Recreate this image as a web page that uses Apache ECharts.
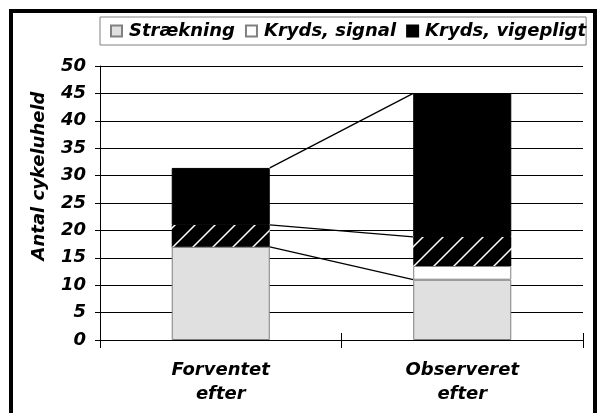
<!DOCTYPE html>
<html>
<head>
<meta charset="utf-8">
<script src="https://cdn.jsdelivr.net/npm/echarts@6/dist/echarts.min.js"></script>
<style>
  html, body { margin: 0; padding: 0; background: #fff; }
  #chart { width: 597px; height: 413px; }
</style>
</head>
<body>
<div id="chart"></div>
<script>
// data
const categories = ['Forventet\nefter', 'Observeret\nefter']
const straekning = [17, 11]
const signal = [0, 2.5]
const skraveret = [4, 5.3]      // hatched part, not in legend
const vigepligt = [10.4, 26.2]
const yTicks = [0, 5, 10, 15, 20, 25, 30, 35, 40, 45, 50]

const font = { fontFamily: 'DejaVu Sans', fontWeight: 'bold', fontStyle: 'italic', fontSize: 18, color: '#000' }

// hatch pattern: black with white diagonal lines
function makeHatch() {
  const c = document.createElement('canvas')
  c.width = 20
  c.height = 20
  const ctx = c.getContext('2d')
  ctx.fillStyle = '#000'
  ctx.fillRect(0, 0, 20, 20)
  ctx.strokeStyle = '#fff'
  ctx.lineWidth = 1.5
  ctx.beginPath()
  ctx.moveTo(-2, 22); ctx.lineTo(22, -2)
  ctx.moveTo(-12, 12); ctx.lineTo(12, -12)
  ctx.moveTo(8, 32); ctx.lineTo(32, 8)
  ctx.stroke()
  return c
}

// series lines connect the tops of these stacked series
const stacks = [straekning, signal, skraveret, vigepligt]
const cum = stacks.map((s, i) => s.map((_, j) => stacks.slice(0, i + 1).reduce((a, b) => a + b[j], 0)))
const seriesLines = [cum[0], cum[2], cum[3]]

const chart = echarts.init(document.getElementById('chart'))

const option = {
  animation: false,
  backgroundColor: '#fff',
  graphic: [{
    type: 'rect',
    shape: { x: 11, y: 11, width: 584, height: 430 },
    style: { fill: null, stroke: '#000', lineWidth: 4 },
    silent: true
  }],
  legend: {
    data: ['Strækning', 'Kryds, signal', 'Kryds, vigepligt'],
    left: 100,
    top: 17,
    padding: [5, 0, 5, 10],
    itemWidth: 11,
    itemHeight: 11,
    itemGap: 10,
    icon: 'rect',
    backgroundColor: '#fff',
    borderColor: '#808080',
    borderWidth: 1,
    textStyle: Object.assign({}, font, { padding: [0, 0, 0, 2] })
  },
  grid: { left: 100, right: 14, top: 66, bottom: 73 },
  xAxis: [{
    type: 'category',
    data: categories,
    axisLine: { lineStyle: { color: '#000', width: 1 } },
    axisTick: { show: true, length: 8, lineStyle: { color: '#000' } },
    axisLabel: Object.assign({}, font, { margin: 18, lineHeight: 24 })
  }, {
    type: 'category',
    data: categories,
    position: 'bottom',
    axisLine: { show: false },
    axisTick: { show: true, inside: true, length: 7, lineStyle: { color: '#000' } },
    axisLabel: { show: false }
  }],
  yAxis: {
    type: 'value',
    min: 0,
    max: 50,
    interval: 5,
    name: 'Antal cykeluheld',
    nameLocation: 'middle',
    nameGap: 52,
    nameTextStyle: Object.assign({}, font, { padding: [0, 0, 0, 54] }),
    axisLine: { show: true, lineStyle: { color: '#000' } },
    axisTick: { show: true, length: 5, lineStyle: { color: '#000' } },
    axisLabel: Object.assign({}, font, {
      margin: 14,
      formatter: v => (yTicks.indexOf(v) >= 0 ? String(v) : '')
    }),
    splitLine: { show: true, lineStyle: { color: '#000', width: 1 } }
  },
  series: [
    {
      name: 'Strækning', type: 'bar', stack: 'a', barWidth: '40.6%', data: straekning,
      itemStyle: { color: '#e0e0e0', borderColor: '#808080', borderWidth: 1 }
    },
    {
      name: 'Kryds, signal', type: 'bar', stack: 'a', data: signal,
      itemStyle: { color: '#fff', borderColor: '#808080', borderWidth: 1 }
    },
    {
      name: 'skraveret', type: 'bar', stack: 'a', data: skraveret,
      itemStyle: { color: { image: makeHatch(), repeat: 'repeat' } }
    },
    {
      name: 'Kryds, vigepligt', type: 'bar', stack: 'a', data: vigepligt,
      itemStyle: { color: '#000', borderColor: '#000', borderWidth: 1 }
    },
    {
      type: 'custom',
      data: seriesLines.map(l => [l[0], l[1]]),
      z: 5,
      renderItem: function (params, api) {
        const p1 = api.coord([0, api.value(0)])
        const p2 = api.coord([1, api.value(1)])
        const hw = api.size([1, 0])[0] * 0.203
        return {
          type: 'line',
          shape: { x1: p1[0] + hw, y1: p1[1], x2: p2[0] - hw, y2: p2[1] },
          style: { stroke: '#000', lineWidth: 1.3 }
        }
      }
    }
  ]
}

chart.setOption(option)
</script>
</body>
</html>
